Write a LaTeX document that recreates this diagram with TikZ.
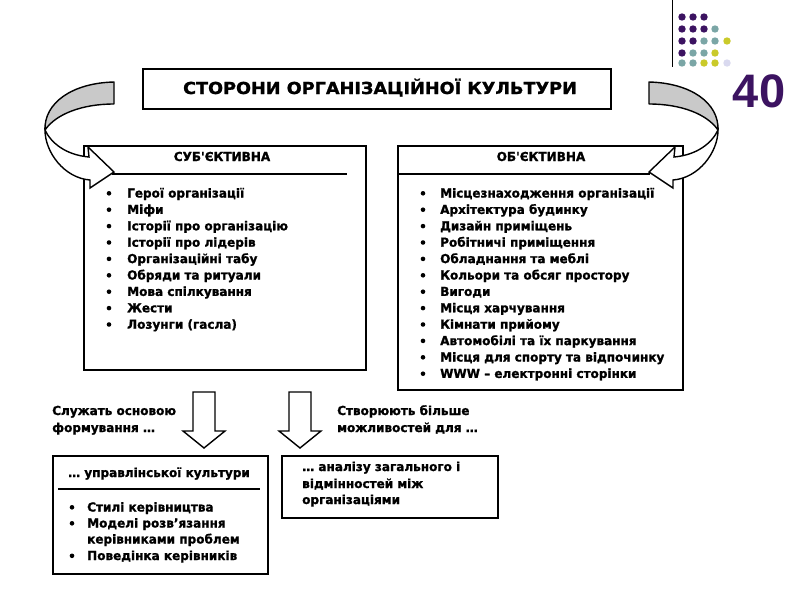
\documentclass[tikz,border=0pt]{standalone}
\usepackage{fontspec}
\newfontfamily\vf{DejaVu Sans}[FakeStretch=0.97, FakeBold=1.2]
\newfontfamily\tf{DejaVu Sans}[FakeStretch=1.07, FakeBold=1.2]
\newfontfamily\nf{Liberation Sans}
\definecolor{dpurple}{HTML}{3C1361}
\definecolor{dteal}{HTML}{7BA6A6}
\definecolor{dyellow}{HTML}{CACA2A}
\definecolor{dlav}{HTML}{D9D9EF}
\definecolor{bandgray}{HTML}{C9C9C9}
\begin{document}
\begin{tikzpicture}[x=1pt,y=-1pt,
  txt/.style={font=\vf\bfseries\fontsize{12.4}{14}\selectfont, inner sep=0pt, anchor=base west},
  hdr/.style={font=\vf\bfseries\fontsize{12.4}{14}\selectfont, inner sep=0pt, anchor=base},
  boxst/.style={draw=black, line width=1.5pt, fill=white, anchor=north west, inner sep=0pt},
  rule/.style={draw=black, line width=1.4pt},
  blk/.style={draw=black, line width=1.4pt, fill=white, line join=miter},
  bul/.style={fill=black},
  dot/.style={circle, inner sep=0pt, minimum size=7.4pt}
]
\useasboundingbox (0,0) rectangle (800,600);
\fill[white] (0,0) rectangle (800,600);

% decoration top right
\draw[line width=0.8pt] (672,0) -- (672,67);
\foreach \x/\y/\c in {682/17/dpurple,693/17/dpurple,704/17/dpurple,
  682/29/dpurple,693/29/dpurple,704/29/dpurple,715/29/dteal,
  682/41/dpurple,693/41/dpurple,704/41/dteal,715/41/dteal,727/41/dyellow,
  682/53/dpurple,693/53/dteal,704/53/dteal,715/53/dyellow,
  682/63/dteal,693/63/dteal,704/63/dyellow,715/63/dyellow,727/63/dlav}
  \node[dot, fill=\c] (d\x-\y) at (\x,\y) {};
\node[font=\nf\bfseries\fontsize{47}{50}\selectfont, text=dpurple, inner sep=0pt, anchor=base] (num) at (759,107) {40};

% title
\node[boxst, minimum width=468pt, minimum height=40pt] (title) at (142,68) {};
\node[font=\tf\bfseries\fontsize{16.5}{18}\selectfont, inner sep=0pt, anchor=base] (titletext) at (380,94) {СТОРОНИ ОРГАНІЗАЦІЙНОЇ КУЛЬТУРИ};

% boxes
\node[boxst, minimum width=282pt, minimum height=224pt] (subj) at (83,145) {};
\node[boxst, minimum width=285pt, minimum height=244pt] (obj) at (397,145) {};
\node[boxst, minimum width=215pt, minimum height=118pt] (mgmt) at (52,455) {};
\node[boxst, minimum width=216pt, minimum height=62pt] (anal) at (281,455) {};

% headers
\node[hdr] (subjh) at (222,161) {СУБ'ЄКТИВНА};
\node[hdr] (objh) at (541,161) {ОБ'ЄКТИВНА};
\coordinate (sl1) at (112,174); \coordinate (sl2) at (347,174);
\coordinate (ol1) at (397,174); \coordinate (ol2) at (650,174);
\draw[rule] (sl1) -- (sl2);
\draw[rule] (ol1) -- (ol2);

% subjective list
\foreach \t [count=\i] in {Герої організації, Міфи, Історії про організацію, Історії про лідерів, Організаційні табу, Обряди та ритуали, Мова спілкування, Жести, Лозунги (гасла)}{
  \pgfmathsetmacro\yy{197.5+16.4*(\i-1)}
  \fill[bul] (109,\yy-4.2) circle (2.3);
  \node[txt] (s\i) at (127,\yy) {\t};
}
% objective list
\foreach \t [count=\i] in {Місцезнаходження організації, Архітектура будинку, Дизайн приміщень, Робітничі приміщення, Обладнання та меблі, Кольори та обсяг простору, Вигоди, Місця харчування, Кімнати прийому, Автомобілі та їх паркування, Місця для спорту та відпочинку, WWW – електронні сторінки}{
  \pgfmathsetmacro\yy{197.5+16.4*(\i-1)}
  \fill[bul] (423,\yy-4.2) circle (2.3);
  \node[txt] (o\i) at (440,\yy) {\t};
}

% curved arrows (left, then mirrored right)
\foreach \sh/\sc/\nm in {0/1/L, 763/-1/R}{
\begin{scope}[shift={(\sh,0)}, xscale=\sc]
  \coordinate (A\nm) at (114,82);
  \coordinate (B\nm) at (114,104);
  \coordinate (T\nm) at (45,130);
  \fill[bandgray, draw=black, line width=1.4pt, line join=round]
    (A\nm) .. controls (72,83) and (44,103) .. (T\nm)
    .. controls (56,114) and (82,104) .. (B\nm) -- cycle;
  \fill[white, draw=black, line width=1.4pt, line join=miter]
    (T\nm) .. controls (51,143) and (66,155) .. (89,157)
    -- (88,147) -- (114,172) -- (90,188) -- (90,180)
    .. controls (64,178) and (45,152) .. (T\nm) -- cycle;
\end{scope}
}

% down arrows
\foreach \c/\nm in {204/dl, 300/dr}{
  \coordinate (\nm) at (\c,392);
  \draw[blk] (\c-11,392) -- (\c+11,392) -- (\c+11,431) -- (\c+21,431) -- (\c,448)
    -- (\c-21,431) -- (\c-11,431) -- cycle;
}

% labels near down arrows
\node[txt] (l1) at (52,415) {Служать основою};
\node[txt] (l2) at (52,432) {формування …};
\node[txt] (r1) at (337,415) {Створюють більше};
\node[txt] (r2) at (337,432) {можливостей для …};

% management box
\node[hdr] (mgmth) at (159,477) {… управлінської культури};
\coordinate (ml1) at (58,489); \coordinate (ml2) at (260,489);
\draw[rule] (ml1) -- (ml2);
\fill[bul] (72,511.5-4.2) circle (2.3);
\node[txt] (m1) at (87,511.5) {Стилі керівництва};
\fill[bul] (72,527.5-4.2) circle (2.3);
\node[txt] (m2) at (87,527.5) {Моделі розв’язання};
\node[txt] (m3) at (87,543.5) {керівниками проблем};
\fill[bul] (72,560-4.2) circle (2.3);
\node[txt] (m4) at (87,560) {Поведінка керівників};

% analysis box
\node[txt] (a1) at (302,471) {… аналізу загального і};
\node[txt] (a2) at (302,488) {відмінностей між};
\node[txt] (a3) at (302,504) {організаціями};
\end{tikzpicture}
\end{document}
